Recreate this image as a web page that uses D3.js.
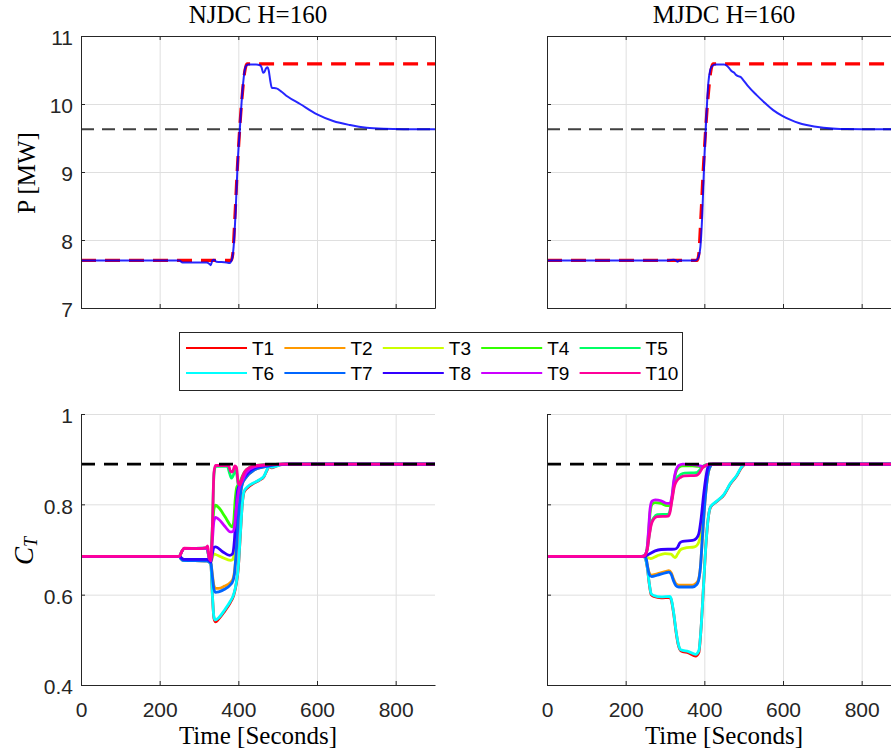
<!DOCTYPE html>
<html>
<head>
<meta charset="utf-8">
<script src="https://cdn.jsdelivr.net/npm/d3@7"></script>
<style>
  body { margin: 0; background: #fff; }
  svg { display: block; overflow: hidden; }
  .tick text { font-family: "Liberation Sans", Arial, sans-serif; font-size: 21px; fill: #262626; }
  .grid line { stroke: #dfdfdf; stroke-width: 1; }
  .grid .domain { display: none; }
  .axis path, .axis line { stroke: #262626; stroke-width: 1; }
  .lbl { font-family: "Liberation Serif", "Times New Roman", serif; font-size: 25px; fill: #000; }
</style>
</head>
<body>
<div id="chart"></div>
<script>
// ---- data ----
const timeTicks = [0, 200, 400, 600, 800];
const pTicks = [7, 8, 9, 10, 11];
const ctTicks = [0.4, 0.6, 0.8, 1];
const panelTitles = ['NJDC H=160', 'MJDC H=160'];
const turbines = ['T1', 'T2', 'T3', 'T4', 'T5', 'T6', 'T7', 'T8', 'T9', 'T10'];
// matlab hsv(10)
const turbineColors = ['#ff0000', '#ff9900', '#ccff00', '#33ff00', '#00ff66',
                       '#00ffff', '#0066ff', '#3300ff', '#cc00ff', '#ff0099'];

const pFinal = 9.63;     // grey dashed
const ctTarget = 0.889;  // black dashed

// reference power [time, MW]
const pRef = [[0, 7.7], [382, 7.7], [386, 7.8], [391, 8.3], [397, 9.0], [408, 10.0],
              [417, 10.5], [422, 10.59], [900, 10.59]];

const pNJDC = [[0, 7.7], [250, 7.7], [258, 7.67], [320, 7.67], [326, 7.65], [330, 7.63],
  [334, 7.7], [338, 7.71], [344, 7.68], [370, 7.67], [378, 7.66], [384, 7.72], [388, 7.9],
  [393, 8.4], [398, 9.1], [404, 9.65], [411, 10.23], [417, 10.52], [421, 10.57], [425, 10.58],
  [445, 10.58], [455, 10.57], [459, 10.54], [463, 10.46], [466, 10.47], [470, 10.52],
  [474, 10.54], [477, 10.5], [481, 10.35], [485, 10.24], [497, 10.23], [510, 10.18],
  [525, 10.11], [557, 10.0], [599, 9.85], [641, 9.75], [684, 9.69], [726, 9.65],
  [769, 9.635], [820, 9.63], [900, 9.63]];

const pMJDC = [[0, 7.7], [310, 7.7], [322, 7.71], [328, 7.7], [332, 7.68], [336, 7.7],
  [378, 7.7], [385, 7.75], [390, 7.9], [395, 8.4], [400, 9.2], [405, 9.8], [410, 10.3],
  [415, 10.5], [420, 10.56], [428, 10.58], [450, 10.58], [458, 10.56], [464, 10.52],
  [470, 10.48], [476, 10.46], [480, 10.43], [486, 10.41], [492, 10.4], [498, 10.36],
  [510, 10.27], [533, 10.13], [555, 10.01], [575, 9.91], [597, 9.83], [618, 9.77],
  [640, 9.72], [660, 9.69], [703, 9.65], [745, 9.632], [800, 9.63], [900, 9.63]];

// thrust coefficient per turbine, NJDC
const ctNJDC = [
  [[0,.685],[250,.685],[254,.68],[260,.676],[320,.675],[326,.672],[330,.668],[334,.6],[338,.548],[342,.540],[350,.546],[365,.563],[380,.583],[388,.598],[394,.62],[400,.66],[405,.73],[410,.8],[415,.828],[425,.838],[440,.847],[455,.854],[465,.861],[472,.874],[478,.884],[485,.881],[495,.884],[510,.888],[530,.889],[900,.889]],
  [[0,.685],[250,.685],[254,.68],[260,.676],[320,.675],[326,.673],[330,.67],[334,.645],[338,.62],[342,.614],[350,.614],[365,.619],[380,.627],[386,.634],[390,.65],[395,.7],[400,.77],[405,.82],[410,.845],[420,.86],[440,.876],[460,.882],[480,.885],[500,.888],[520,.889],[900,.889]],
  [[0,.685],[250,.685],[256,.681],[262,.678],[320,.678],[326,.676],[330,.672],[334,.682],[338,.69],[342,.689],[360,.682],[380,.676],[386,.678],[390,.7],[395,.76],[400,.82],[406,.845],[415,.86],[430,.875],[450,.883],[490,.888],[520,.889],[900,.889]],
  [[0,.685],[250,.685],[256,.695],[262,.702],[320,.703],[326,.68],[330,.675],[334,.74],[338,.79],[342,.798],[350,.793],[360,.781],[370,.767],[380,.753],[385,.75],[388,.76],[392,.81],[396,.838],[402,.845],[410,.862],[420,.876],[440,.885],[480,.888],[510,.889],[900,.889]],
  [[0,.685],[250,.685],[256,.695],[262,.702],[320,.703],[326,.68],[330,.675],[334,.75],[338,.865],[342,.884],[372,.884],[378,.868],[383,.858],[388,.866],[392,.878],[396,.868],[400,.842],[404,.838],[410,.855],[417,.87],[430,.88],[440,.884],[480,.888],[510,.889],[900,.889]],
  [[0,.685],[250,.685],[254,.68],[260,.676],[320,.675],[326,.672],[330,.668],[334,.6],[338,.55],[342,.544],[350,.549],[365,.566],[380,.586],[388,.6],[394,.622],[400,.662],[405,.732],[410,.8],[415,.83],[425,.84],[440,.848],[455,.855],[465,.862],[472,.875],[478,.885],[485,.882],[495,.884],[510,.888],[530,.889],[900,.889]],
  [[0,.685],[250,.685],[254,.68],[260,.676],[320,.675],[326,.673],[330,.67],[334,.64],[338,.612],[342,.605],[350,.606],[365,.612],[380,.622],[386,.63],[390,.645],[395,.7],[400,.77],[405,.82],[410,.845],[420,.86],[440,.876],[460,.882],[480,.885],[500,.888],[520,.889],[900,.889]],
  [[0,.685],[250,.685],[256,.681],[262,.678],[320,.678],[326,.676],[330,.672],[334,.69],[338,.705],[342,.706],[360,.695],[378,.687],[385,.69],[390,.72],[394,.78],[398,.83],[404,.845],[415,.86],[430,.875],[450,.883],[490,.888],[520,.889],[900,.889]],
  [[0,.685],[250,.685],[256,.695],[262,.702],[320,.703],[326,.68],[330,.675],[334,.72],[338,.763],[342,.771],[350,.767],[365,.752],[380,.739],[386,.74],[390,.75],[396,.8],[402,.835],[410,.852],[420,.87],[440,.883],[480,.888],[510,.889],[900,.889]],
  [[0,.685],[250,.685],[256,.695],[262,.703],[300,.702],[318,.704],[322,.708],[326,.681],[330,.676],[334,.75],[338,.87],[342,.886],[375,.886],[380,.873],[385,.872],[391,.885],[395,.882],[400,.846],[404,.843],[410,.86],[417,.873],[430,.882],[440,.885],[480,.888],[510,.889],[900,.889]]
];

// thrust coefficient per turbine, MJDC
const ctMJDC = [
  [[0,.685],[245,.685],[250,.68],[255,.66],[260,.624],[265,.6],[272,.596],[290,.593],[312,.594],[316,.588],[322,.558],[328,.518],[334,.488],[340,.476],[360,.471],[378,.464],[386,.472],[392,.53],[398,.62],[404,.71],[410,.77],[416,.794],[430,.805],[450,.821],[466,.845],[483,.864],[495,.882],[505,.889],[900,.889]],
  [[0,.685],[248,.685],[252,.68],[256,.662],[260,.648],[266,.643],[280,.646],[300,.651],[310,.653],[316,.648],[322,.634],[328,.624],[335,.621],[370,.621],[380,.626],[385,.633],[390,.66],[396,.74],[402,.81],[408,.86],[414,.882],[422,.889],[900,.889]],
  [[0,.685],[248,.685],[256,.682],[264,.68],[280,.686],[300,.691],[315,.69],[322,.684],[326,.682],[332,.69],[340,.7],[350,.703],[375,.706],[382,.71],[390,.73],[396,.77],[402,.82],[408,.86],[414,.884],[420,.889],[900,.889]],
  [[0,.685],[240,.685],[248,.687],[254,.7],[258,.735],[262,.78],[267,.8],[275,.804],[290,.802],[305,.797],[312,.797],[318,.815],[322,.845],[328,.872],[335,.882],[345,.885],[370,.885],[385,.884],[395,.883],[405,.886],[412,.889],[900,.889]],
  [[0,.685],[245,.685],[250,.688],[255,.7],[260,.732],[265,.758],[272,.771],[280,.777],[308,.778],[312,.784],[318,.814],[324,.846],[330,.858],[340,.866],[350,.869],[380,.87],[386,.874],[395,.883],[405,.888],[412,.889],[900,.889]],
  [[0,.685],[245,.685],[250,.68],[255,.66],[260,.625],[265,.602],[272,.598],[290,.595],[312,.596],[316,.59],[322,.56],[328,.52],[334,.49],[340,.478],[360,.474],[378,.468],[386,.476],[392,.53],[398,.62],[404,.71],[410,.77],[416,.795],[430,.806],[450,.822],[466,.846],[483,.865],[495,.883],[505,.889],[900,.889]],
  [[0,.685],[248,.685],[252,.68],[256,.66],[260,.645],[266,.64],[280,.643],[300,.648],[310,.65],[316,.645],[322,.63],[328,.62],[335,.617],[370,.617],[380,.622],[385,.63],[390,.66],[396,.74],[402,.81],[408,.86],[414,.882],[422,.889],[900,.889]],
  [[0,.685],[248,.685],[260,.69],[275,.697],[290,.7],[325,.701],[332,.705],[338,.715],[345,.718],[370,.72],[380,.725],[386,.735],[392,.77],[398,.82],[404,.86],[410,.885],[416,.889],[900,.889]],
  [[0,.685],[240,.685],[248,.687],[254,.7],[258,.74],[262,.79],[267,.807],[275,.81],[290,.808],[305,.802],[312,.802],[318,.82],[322,.85],[328,.876],[335,.886],[345,.889],[370,.888],[385,.886],[395,.884],[405,.886],[412,.889],[900,.889]],
  [[0,.685],[245,.685],[250,.688],[255,.7],[260,.73],[265,.755],[272,.768],[280,.773],[308,.774],[312,.78],[318,.81],[324,.84],[330,.852],[340,.86],[350,.863],[380,.864],[386,.868],[395,.88],[405,.887],[412,.889],[900,.889]]
];

// ---- layout ----
const W = 891, H = 753;
const panelW = 354;
const colLeft = [81, 547];
const topY = 36, topH = 272;
const botY = 414, botH = 271;

const svg = d3.select('#chart').append('svg')
  .attr('width', W).attr('height', H);

const tickFmt = d3.format('~g');
let clipCount = 0;

function makePanel(left, top, height, yDomain, yTicks, opts) {
  const x = d3.scaleLinear().domain([0, 900]).range([0, panelW]);
  const y = d3.scaleLinear().domain(yDomain).range([height, 0]);
  const g = svg.append('g').attr('transform', `translate(${left},${top})`);

  // grid
  g.append('g').attr('class', 'grid').attr('transform', `translate(0,${height})`)
    .call(d3.axisBottom(x).tickValues(timeTicks).tickSize(-height).tickFormat(''));
  g.append('g').attr('class', 'grid')
    .call(d3.axisLeft(y).tickValues(yTicks).tickSize(-panelW).tickFormat(''));

  const id = 'clip' + (clipCount++);
  g.append('clipPath').attr('id', id)
    .append('rect').attr('width', panelW).attr('height', height);
  const plot = g.append('g').attr('clip-path', `url(#${id})`);

  const xAxis = d3.axisBottom(x).tickValues(timeTicks).tickSizeInner(-4).tickSizeOuter(0)
    .tickPadding(17).tickFormat(opts.xLabels ? tickFmt : '');
  const yAxis = d3.axisLeft(y).tickValues(yTicks).tickSizeInner(-4).tickSizeOuter(0)
    .tickPadding(8).tickFormat(opts.yLabels ? tickFmt : '');

  const axes = g.append('g');
  axes.append('g').attr('class', 'axis').attr('transform', `translate(0,${height})`).call(xAxis);
  const ya = axes.append('g').attr('class', 'axis').call(yAxis);
  ya.selectAll('text').attr('dy', '0.42em');

  if (opts.box) {
    axes.append('g').attr('class', 'axis')
      .call(d3.axisTop(x).tickValues(timeTicks).tickSizeInner(-4).tickSizeOuter(0).tickFormat(''));
    axes.append('g').attr('class', 'axis').attr('transform', `translate(${panelW},0)`)
      .call(d3.axisRight(y).tickValues(yTicks).tickSizeInner(-4).tickSizeOuter(0).tickFormat(''));
  }

  const line = d3.line().x(d => x(d[0])).y(d => y(d[1])).curve(d3.curveMonotoneX);
  return { g, plot, axes, x, y, line };
}

// ---- power panels ----
[pNJDC, pMJDC].forEach((series, i) => {
  const p = makePanel(colLeft[i], topY, topH, [7, 11], pTicks,
                      { box: true, xLabels: false, yLabels: i === 0 });
  p.plot.append('path')
    .attr('d', p.line([[0, pFinal], [900, pFinal]]))
    .attr('fill', 'none').attr('stroke', '#404040')
    .attr('stroke-width', 2).attr('stroke-dasharray', '13,8');
  p.plot.append('path')
    .attr('d', p.line(pRef))
    .attr('fill', 'none').attr('stroke', '#ff0000')
    .attr('stroke-width', 3.2).attr('stroke-dasharray', '15,9');
  p.plot.append('path')
    .attr('d', p.line(series))
    .attr('fill', 'none').attr('stroke', '#0000ff')
    .attr('stroke-opacity', 0.85).attr('stroke-width', 2);
  p.axes.raise();

  svg.append('text').attr('class', 'lbl')
    .attr('x', colLeft[i] + panelW / 2).attr('y', 23)
    .attr('text-anchor', 'middle').text(panelTitles[i]);
});

// ---- thrust coefficient panels ----
[ctNJDC, ctMJDC].forEach((group, i) => {
  const p = makePanel(colLeft[i], botY, botH, [0.4, 1], ctTicks,
                      { box: false, xLabels: true, yLabels: i === 0 });
  group.forEach((series, k) => {
    p.plot.append('path')
      .attr('d', p.line(series))
      .attr('fill', 'none').attr('stroke', turbineColors[k])
      .attr('stroke-width', 2.8).attr('stroke-linejoin', 'round');
  });
  p.plot.append('path')
    .attr('d', p.line([[0, ctTarget], [900, ctTarget]]))
    .attr('fill', 'none').attr('stroke', '#000')
    .attr('stroke-width', 2.8).attr('stroke-dasharray', '14,9');
  p.axes.raise();

  svg.append('text').attr('class', 'lbl')
    .attr('x', colLeft[i] + panelW / 2).attr('y', 744)
    .attr('text-anchor', 'middle').text('Time [Seconds]');
});

// y labels
svg.append('text').attr('class', 'lbl')
  .attr('transform', 'translate(35,173) rotate(-90)')
  .attr('text-anchor', 'middle').text('P [MW]');

const ctLabel = svg.append('text').attr('class', 'lbl')
  .attr('transform', 'translate(33,551) rotate(-90)')
  .attr('text-anchor', 'middle');
ctLabel.append('tspan').attr('font-style', 'italic').attr('font-size', 27).text('C');
ctLabel.append('tspan').attr('font-style', 'italic').attr('font-size', 18).attr('dy', 4).text('T');

// ---- legend ----
const legend = svg.append('g');
legend.append('rect')
  .attr('x', 179.5).attr('y', 332.5).attr('width', 503).attr('height', 58)
  .attr('fill', '#fff').attr('stroke', '#262626').attr('stroke-width', 1);
turbines.forEach((name, i) => {
  const col = i % 5, row = Math.floor(i / 5);
  const lx = 186 + col * 98.4, ly = 348 + row * 25;
  legend.append('line')
    .attr('x1', lx).attr('x2', lx + 61).attr('y1', ly).attr('y2', ly)
    .attr('stroke', turbineColors[i]).attr('stroke-width', 2);
  legend.append('text')
    .attr('x', lx + 66).attr('y', ly + 7)
    .attr('font-family', '"Liberation Sans", Arial, sans-serif')
    .attr('font-size', 19).attr('fill', '#000')
    .text(name);
});
</script>
</body>
</html>
